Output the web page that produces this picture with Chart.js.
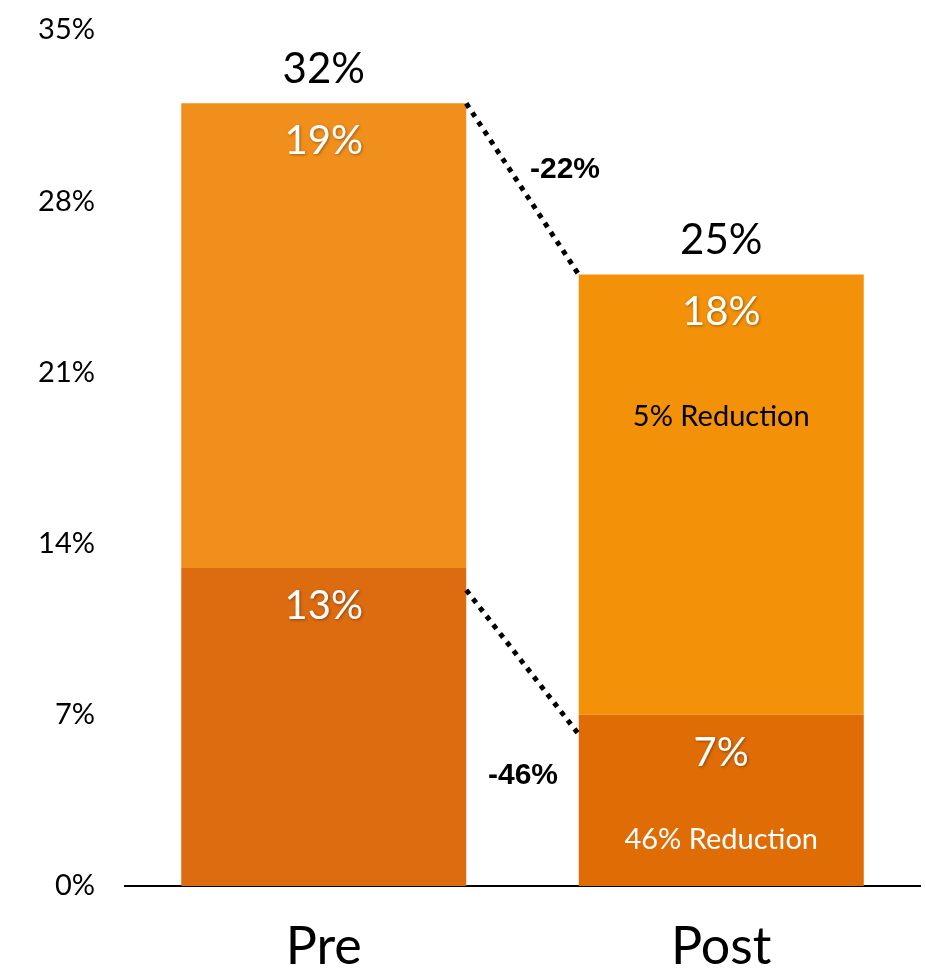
<!DOCTYPE html>
<html>
<head>
<meta charset="utf-8">
<script src="https://cdn.jsdelivr.net/npm/chart.js@4/dist/chart.umd.min.js"></script>
<style>
  html, body { margin: 0; padding: 0; background: #fff; }
  #wrap { width: 926px; height: 974px; }
</style>
</head>
<body>
<div id="wrap"><canvas id="chart"></canvas></div>
<script>
// data
const categories = ['Pre', 'Post'];
const lowerValues = [13, 7];
const upperValues = [19, 18];
const totalValues = [32, 25];
const yTicks = [0, 7, 14, 21, 28, 35];
const changeLabels = ['-22%', '-46%'];
const noteLabels = ['5% Reduction', '46% Reduction'];

const FONT = 'Lato, "Open Sans", sans-serif';

const annotate = {
  id: 'annotate',
  afterDatasetsDraw(chart) {
    const ctx = chart.ctx;
    const y = chart.scales.y;
    const lower = chart.getDatasetMeta(0).data;
    const upper = chart.getDatasetMeta(1).data;

    ctx.save();
    ctx.textAlign = 'center';
    ctx.textBaseline = 'middle';

    // white value labels inside each segment
    ctx.shadowColor = 'rgba(0,0,0,0.35)';
    ctx.shadowBlur = 3;
    ctx.shadowOffsetX = 1;
    ctx.shadowOffsetY = 1;
    ctx.fillStyle = '#fff';
    ctx.font = '40px ' + FONT;
    lower.forEach((bar, i) => ctx.fillText(lowerValues[i] + '%', bar.x, bar.y + 38));
    upper.forEach((bar, i) => ctx.fillText(upperValues[i] + '%', bar.x, bar.y + 38));
    ctx.shadowColor = 'transparent';

    // totals above bars
    ctx.fillStyle = '#000';
    ctx.font = '42px ' + FONT;
    upper.forEach((bar, i) => ctx.fillText(totalValues[i] + '%', bar.x, bar.y - 34));

    // notes in Post bar
    ctx.font = '29px ' + FONT;
    ctx.fillStyle = '#000';
    ctx.fillText(noteLabels[0], upper[1].x, y.getPixelForValue(19.2));
    ctx.fillStyle = '#fff';
    ctx.fillText(noteLabels[1], lower[1].x, y.getPixelForValue(1.9));

    // dotted connectors
    const preRight = upper[0].x + upper[0].width / 2;
    const postLeft = upper[1].x - upper[1].width / 2;
    ctx.strokeStyle = '#000';
    ctx.lineWidth = 5;
    ctx.setLineDash([5, 6]);
    ctx.beginPath();
    ctx.moveTo(preRight, y.getPixelForValue(totalValues[0]));
    ctx.lineTo(postLeft, y.getPixelForValue(totalValues[1]));
    ctx.moveTo(preRight, y.getPixelForValue(12.1));
    ctx.lineTo(postLeft, y.getPixelForValue(6.2));
    ctx.stroke();
    ctx.setLineDash([]);

    // change labels
    ctx.fillStyle = '#000';
    ctx.font = 'bold 30px "Liberation Sans", Arial, sans-serif';
    ctx.fillText(changeLabels[0], 565, y.getPixelForValue(29.3));
    ctx.fillText(changeLabels[1], 523, y.getPixelForValue(4.5));
    ctx.restore();
  }
};

new Chart(document.getElementById('chart'), {
  type: 'bar',
  data: {
    labels: categories,
    datasets: [{
      data: lowerValues,
      backgroundColor: ['#DD6B10', '#DF6C05'],
      barPercentage: 0.717,
      categoryPercentage: 1
    }, {
      data: upperValues,
      backgroundColor: ['#F18F1C', '#F39208'],
      barPercentage: 0.717,
      categoryPercentage: 1
    }]
  },
  options: {
    responsive: true,
    maintainAspectRatio: false,
    animation: false,
    layout: { padding: { top: 30, right: 6, left: 0, bottom: 0 } },
    plugins: {
      legend: { display: false },
      tooltip: { enabled: false }
    },
    scales: {
      x: {
        stacked: true,
        grid: { display: false, drawTicks: false },
        border: { display: true, color: '#000', width: 2 },
        ticks: {
          color: '#000',
          padding: 30,
          font: { family: FONT, size: 52 }
        },
        afterFit(scale) { scale.height = 88; }
      },
      y: {
        stacked: true,
        min: 0,
        max: 35,
        grid: { display: false, drawTicks: false },
        border: { display: false },
        afterBuildTicks(scale) { scale.ticks = yTicks.map(v => ({ value: v })); },
        ticks: {
          color: '#000',
          padding: 30,
          font: { family: FONT, size: 29 },
          callback: v => v + '%'
        },
        afterFit(scale) {
          scale.width = 125;
          scale.paddingTop = 0;
          scale.paddingBottom = 0;
        }
      }
    }
  },
  plugins: [annotate]
});
</script>
</body>
</html>
